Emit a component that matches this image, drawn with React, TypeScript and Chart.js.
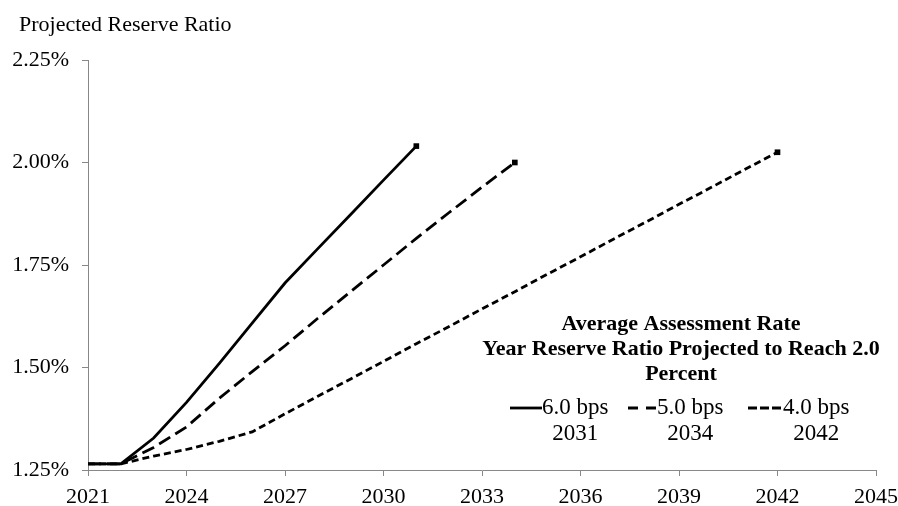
import React, { useEffect, useRef } from "react";
import { Chart, registerables } from "chart.js";

Chart.register(...registerables);

const chartTitle = "Projected Reserve Ratio";
const legendTitleLines = [
  "Average Assessment Rate",
  "Year Reserve Ratio Projected to Reach 2.0",
  "Percent",
];

const seriesNames = ["6.0 bps", "5.0 bps", "4.0 bps"];
const seriesYears = ["2031", "2034", "2042"];

const years6 = [2021, 2022, 2023, 2024, 2025, 2026, 2027, 2028, 2029, 2030, 2031];
const values6 = [1.265, 1.265, 1.328, 1.415, 1.51, 1.608, 1.706, 1.79, 1.873, 1.957, 2.04];

const years5 = [2021, 2022, 2023, 2024, 2025, 2026, 2027, 2028, 2029, 2030, 2031, 2032, 2033, 2034];
const values5 = [1.265, 1.265, 1.305, 1.355, 1.425, 1.49, 1.553, 1.62, 1.685, 1.75, 1.815, 1.878, 1.94, 2.0];

const years4 = [2021, 2022, 2023, 2024, 2025, 2026, 2027, 2028, 2029, 2030, 2031, 2032, 2033, 2034, 2035, 2036, 2037, 2038, 2039, 2040, 2041, 2042];
const values4 = [1.265, 1.265, 1.284, 1.3, 1.32, 1.343, 1.387, 1.43, 1.472, 1.515, 1.558, 1.6, 1.643, 1.685, 1.728, 1.77, 1.813, 1.855, 1.898, 1.94, 1.983, 2.025];

const xMin = 2021;
const xMax = 2045;
const xStep = 3;
const yMin = 1.25;
const yMax = 2.25;
const yStep = 0.25;

const dashes: number[][] = [[], [13, 6], [7, 4]];
const legendDashes: number[][] = [[], [10, 8], [9, 3]];

const FONT = '"Liberation Serif", "DejaVu Serif", serif';

const pts = (xs: number[], ys: number[]) => xs.map((x, i) => ({ x, y: ys[i] }));

const overlayPlugin = {
  id: "overlay",
  afterDraw(chart: any) {
    const ctx = chart.ctx as CanvasRenderingContext2D;
    ctx.save();
    ctx.fillStyle = "#000";
    ctx.textBaseline = "middle";
    // chart title
    ctx.font = `22px ${FONT}`;
    ctx.textAlign = "left";
    ctx.fillText(chartTitle, 19, 25);

    // legend title
    ctx.font = `bold 22px ${FONT}`;
    ctx.textAlign = "center";
    const cx = 681;
    legendTitleLines.forEach((t, i) => ctx.fillText(t, cx, 324 + i * 25));

    // legend items
    const sampleX = [510, 628, 748];
    const sampleW = [32, 29, 35];
    ctx.font = `23px ${FONT}`;
    seriesNames.forEach((name, i) => {
      const x0 = sampleX[i];
      ctx.strokeStyle = "#000";
      ctx.lineWidth = 2.8;
      ctx.setLineDash(legendDashes[i]);
      ctx.beginPath();
      ctx.moveTo(x0, 408);
      ctx.lineTo(x0 + sampleW[i], 408);
      ctx.stroke();
      ctx.setLineDash([]);
      ctx.textAlign = "left";
      const tx = x0 + sampleW[i];
      ctx.fillText(name, tx, 408);
      const w = ctx.measureText(name).width;
      ctx.textAlign = "center";
      ctx.fillText(seriesYears[i], tx + w / 2, 434);
    });
    ctx.restore();
  },
};

export default function App() {
  const ref = useRef<HTMLCanvasElement>(null);
  useEffect(() => {
    if (!ref.current) return;
    const mk = (xs: number[], ys: number[], i: number) => ({
      label: seriesNames[i],
      data: pts(xs, ys),
      borderColor: "#000",
      backgroundColor: "#000",
      borderWidth: 2.8,
      borderDash: dashes[i],
      tension: 0,
      pointStyle: "rect",
      pointRadius: (c: any) => (c.dataIndex === xs.length - 1 ? 4 : 0),
      pointHoverRadius: 0,
      pointBorderWidth: 0,
    });
    const chart = new Chart(ref.current, {
      type: "line",
      data: {
        datasets: [mk(years6, values6, 0), mk(years5, values5, 1), mk(years4, values4, 2)] as any,
      },
      options: {
        animation: false,
        responsive: false,
        maintainAspectRatio: false,
        layout: { padding: { top: 60, right: 22, left: 0, bottom: 0 } },
        plugins: { legend: { display: false }, tooltip: { enabled: false } },
        scales: {
          x: {
            type: "linear",
            min: xMin,
            max: xMax,
            afterFit: (s: any) => {
              s.height = 36;
              s.paddingLeft = 0;
              s.paddingRight = 0;
            },
            ticks: {
              stepSize: xStep,
              color: "#000",
              font: { family: FONT, size: 22 },
              padding: 8,
              callback: (v: any) => String(v),
              maxRotation: 0,
              autoSkip: false,
            },
            grid: { drawOnChartArea: false, drawTicks: true, tickLength: 6, color: "#888" },
            border: { display: true, color: "#888", width: 1 },
          },
          y: {
            min: yMin,
            max: yMax,
            afterFit: (s: any) => {
              s.width = 88;
              s.paddingTop = 0;
              s.paddingBottom = 0;
            },
            ticks: {
              stepSize: yStep,
              color: "#000",
              font: { family: FONT, size: 22 },
              padding: 13,
              callback: (v: any) => Number(v).toFixed(2) + "%",
            },
            grid: { drawOnChartArea: false, drawTicks: true, tickLength: 6, color: "#888" },
            border: { display: true, color: "#888", width: 1 },
          },
        },
      } as any,
      plugins: [overlayPlugin],
    });
    return () => chart.destroy();
  }, []);
  return (
    <div style={{ position: "fixed", left: 0, top: 0, width: 898, height: 506, background: "#fff" }}>
      <canvas ref={ref} width={898} height={506} style={{ width: 898, height: 506, display: "block" }} />
    </div>
  );
}
